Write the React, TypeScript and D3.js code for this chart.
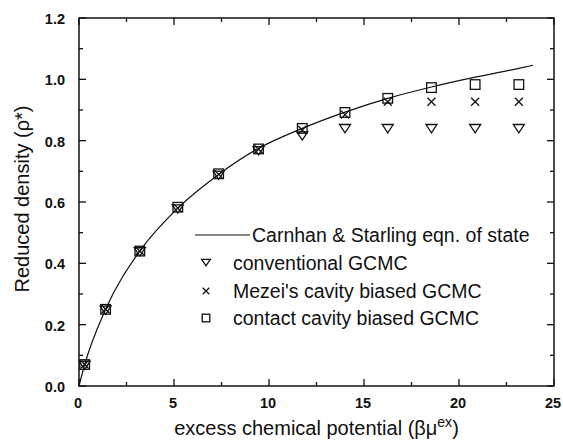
import React from "react";
import * as d3 from "d3";

const W = 563, H = 441;
const margin = { left: 79, right: 9, top: 18, bottom: 55 };

const xTicks = [0, 5, 10, 15, 20, 25];
const yTicks = [0.0, 0.2, 0.4, 0.6, 0.8, 1.0, 1.2];

const muX = [0.3, 1.4, 3.2, 5.2, 7.35, 9.45, 11.75, 14.0, 16.25, 18.55, 20.85, 23.15];
const convY = [0.07, 0.25, 0.44, 0.58, 0.69, 0.77, 0.818, 0.842, 0.842, 0.842, 0.842, 0.842];
const mezeiY = [0.07, 0.25, 0.44, 0.58, 0.69, 0.772, 0.835, 0.885, 0.927, 0.927, 0.927, 0.927];
const contactY = [0.07, 0.25, 0.44, 0.583, 0.692, 0.773, 0.84, 0.892, 0.938, 0.973, 0.983, 0.983];

const csX = [0, 0.3, 1.4, 3.2, 5.2, 7.35, 9.45, 11.75, 14.0, 16.25, 18.55, 20.85, 23.15, 23.9];
const csY = [0, 0.07, 0.25, 0.44, 0.58, 0.69, 0.775, 0.84, 0.893, 0.938, 0.975, 1.007, 1.036, 1.046];

const legendLabels = [
  "Carnhan & Starling eqn. of state",
  "conventional GCMC",
  "Mezei's cavity biased GCMC",
  "contact cavity biased GCMC",
];

const FONT = "'Liberation Sans', Arial, Helvetica, sans-serif";

export default function App() {
  const x = d3.scaleLinear().domain([0, 25]).range([margin.left, W - margin.right]);
  const y = d3.scaleLinear().domain([0, 1.2]).range([386, margin.top]);
  const line = d3
    .line<number>()
    .x((_, i) => x(csX[i]))
    .y((d) => y(d))
    .curve(d3.curveMonotoneX);

  const x0 = x(0), x1 = x(25), y0 = y(0), y1 = y(1.2);
  const xMinor = d3.range(0, 25.01, 2.5);
  const yMinor = d3.range(0, 1.201, 0.1);

  const tri = (cx: number, cy: number, k: string, s = 5.5) => (
    <path
      key={k}
      d={`M${cx - s},${cy - s * 0.6} L${cx + s},${cy - s * 0.6} L${cx},${cy + s * 0.9} Z`}
      fill="none"
      stroke="#111"
      strokeWidth={1.3}
    />
  );
  const cross = (cx: number, cy: number, k: string, s = 4) => (
    <path
      key={k}
      d={`M${cx - s},${cy - s} L${cx + s},${cy + s} M${cx - s},${cy + s} L${cx + s},${cy - s}`}
      stroke="#111"
      strokeWidth={1.3}
    />
  );
  const sq = (cx: number, cy: number, k: string, s = 4.8) => (
    <rect
      key={k}
      x={cx - s}
      y={cy - s}
      width={2 * s}
      height={2 * s}
      fill="none"
      stroke="#111"
      strokeWidth={1.3}
    />
  );

  const legX = 195;
  const legY = [235, 263, 291, 318];

  return (
    <svg width={W} height={H} style={{ position: "absolute", left: 0, top: 0, background: "white" }}>
      <rect x={0} y={0} width={W} height={H} fill="white" />
      <rect x={x0} y={y1} width={x1 - x0} height={y0 - y1} fill="none" stroke="#111" strokeWidth={1.5} />
      {xMinor.map((v, i) => {
        const major = Math.abs(v % 5) < 1e-6;
        const L = major ? 7 : 4;
        return (
          <g key={"xt" + i}>
            <line x1={x(v)} x2={x(v)} y1={y0} y2={y0 - L} stroke="#111" strokeWidth={1.3} />
            <line x1={x(v)} x2={x(v)} y1={y1} y2={y1 + L} stroke="#111" strokeWidth={1.3} />
          </g>
        );
      })}
      {yMinor.map((v, i) => {
        const major = i % 2 === 0;
        const L = major ? 7 : 4;
        return (
          <g key={"yt" + i}>
            <line x1={x0} x2={x0 + L} y1={y(v)} y2={y(v)} stroke="#111" strokeWidth={1.3} />
            <line x1={x1} x2={x1 - L} y1={y(v)} y2={y(v)} stroke="#111" strokeWidth={1.3} />
          </g>
        );
      })}
      {xTicks.map((v) => (
        <text key={"xl" + v} x={x(v) - 1} y={y0 + 22} textAnchor="middle" fontFamily={FONT} fontWeight="bold" fontSize={14.5} fill="#111">
          {v}
        </text>
      ))}
      {yTicks.map((v) => (
        <text key={"yl" + v} x={x0 - 14} y={y(v) + 6} textAnchor="end" fontFamily={FONT} fontWeight="bold" fontSize={14.5} fill="#111">
          {v.toFixed(1)}
        </text>
      ))}
      <text x={(x0 + x1) / 2} y={435} textAnchor="middle" fontFamily={FONT} fontSize={20} fill="#111">
        excess chemical potential (βμ<tspan dy={-8} fontSize={14}>ex</tspan><tspan dy={8}>)</tspan>
      </text>
      <text
        transform={`translate(29, 199) rotate(-90)`}
        textAnchor="middle"
        fontFamily={FONT}
        fontSize={20}
        fill="#111"
      >
        Reduced density (ρ*)
      </text>
      <path d={line(csY) || ""} fill="none" stroke="#111" strokeWidth={1.2} />
      {muX.map((v, i) => tri(x(v), y(convY[i]), "t" + i))}
      {muX.map((v, i) => cross(x(v), y(mezeiY[i]), "c" + i))}
      {muX.map((v, i) => sq(x(v), y(contactY[i]), "s" + i))}
      <line x1={legX} x2={250} y1={legY[0]} y2={legY[0]} stroke="#111" strokeWidth={1.2} />
      {tri(206, legY[1] - 1, "lt", 4.3)}
      {cross(206, legY[2], "lc", 3.3)}
      {sq(206, legY[3], "ls", 3.8)}
      {legendLabels.map((t, i) => (
        <text key={"lg" + i} x={i === 0 ? 252 : 233} y={legY[i] + 7} fontFamily={FONT} fontSize={19.5} fill="#111">
          {t}
        </text>
      ))}
    </svg>
  );
}
